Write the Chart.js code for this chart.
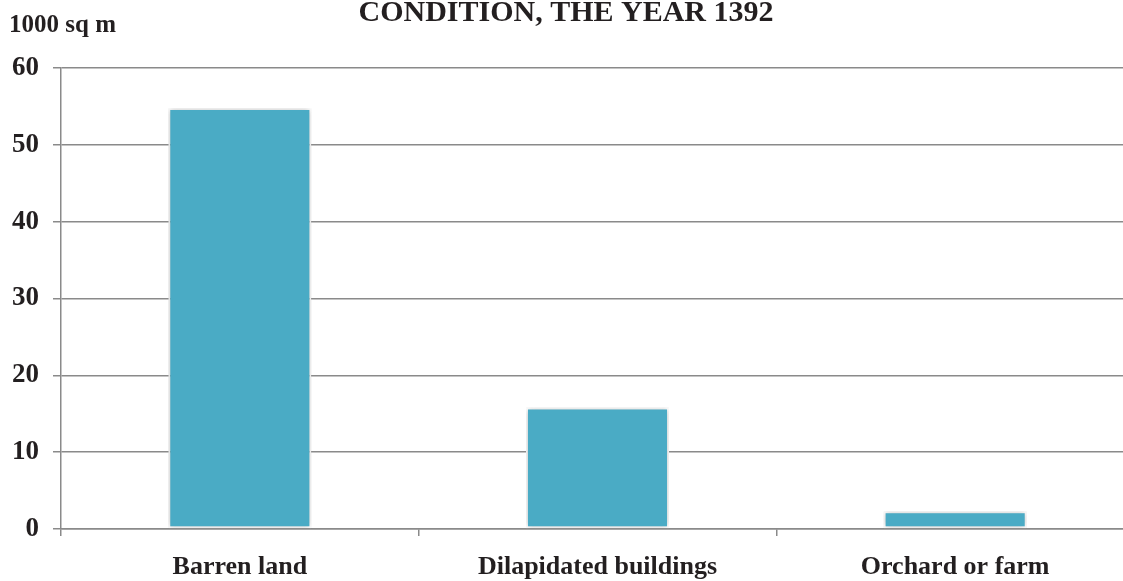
<!DOCTYPE html>
<html>
<head>
<meta charset="utf-8">
<script src="https://cdn.jsdelivr.net/npm/chart.js@4.4.1/dist/chart.umd.min.js"></script>
<style>
  body { margin: 0; overflow: hidden; background: #fff; }
  #wrap { width: 1134px; height: 581px; }
</style>
</head>
<body>
<div id="wrap"><canvas id="chart" width="1134" height="581"></canvas></div>
<script>
const categories = ["Barren land", "Dilapidated buildings", "Orchard or farm"];
const areaValues = [54.8, 15.8, 2.3];
const yTicks = [0, 10, 20, 30, 40, 50, 60];
const chartTitle = "CONDITION, THE YEAR 1392";
const unitLabel = "1000 sq m";

const serif = "'Liberation Serif', 'DejaVu Serif', serif";
const textColor = "#231f20";
const lineColor = "#8a8a8a";

// titles drawn at fixed spots, plus a soft shadow round the bars
const extras = {
  id: "extras",
  beforeDatasetsDraw(chart) {
    const ctx = chart.ctx;
    ctx.save();
    ctx.shadowColor = "rgba(0,0,0,0.25)";
    ctx.shadowBlur = 6;
  },
  afterDatasetsDraw(chart) {
    chart.ctx.restore();
  },
  afterDraw(chart) {
    const ctx = chart.ctx;
    ctx.save();
    ctx.fillStyle = textColor;
    ctx.textBaseline = "alphabetic";
    ctx.font = "bold 30px " + serif;
    ctx.textAlign = "center";
    ctx.fillText(chartTitle, 566, 21);
    ctx.font = "bold 25px " + serif;
    ctx.textAlign = "left";
    ctx.fillText(unitLabel, 9, 32);
    ctx.restore();
  },
};

new Chart(document.getElementById("chart"), {
  type: "bar",
  data: {
    labels: categories,
    datasets: [
      {
        data: areaValues,
        backgroundColor: "#4aabc5",
        borderColor: "#ffffff",
        borderWidth: 2,
        borderSkipped: false,
        barPercentage: 0.4,
        categoryPercentage: 1,
      },
    ],
  },
  options: {
    responsive: false,
    animation: false,
    layout: { padding: { top: 68, right: 0, bottom: 0, left: 0 } },
    plugins: {
      legend: { display: false },
      title: { display: false },
      tooltip: { enabled: false },
    },
    scales: {
      x: {
        afterFit(scale) {
          scale.height = 52;
        },
        grid: {
          drawOnChartArea: false,
          drawTicks: true,
          tickLength: 7,
          color: lineColor,
          lineWidth: 1.5,
        },
        border: { display: true, color: lineColor, width: 1.5 },
        ticks: {
          color: textColor,
          padding: 16,
          font: { family: serif, size: 26, weight: "bold" },
        },
      },
      y: {
        min: 0,
        max: 60,
        afterFit(scale) {
          scale.width = 61;
        },
        afterBuildTicks(scale) {
          scale.ticks = yTicks.map((v) => ({ value: v }));
        },
        grid: {
          color: lineColor,
          lineWidth: 1.5,
          tickLength: 8,
        },
        border: { display: true, color: lineColor, width: 1.5 },
        ticks: {
          color: textColor,
          padding: 14,
          font: { family: serif, size: 27, weight: "bold" },
        },
      },
    },
  },
  plugins: [extras],
});
</script>
</body>
</html>
